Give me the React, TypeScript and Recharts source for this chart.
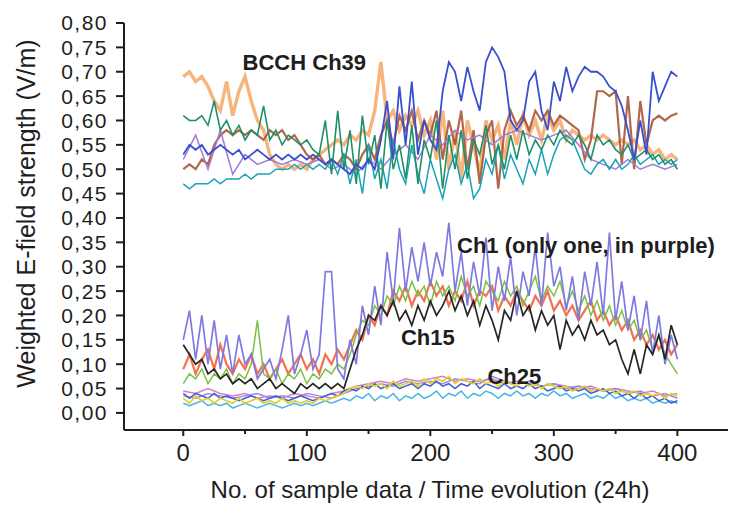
import { LineChart, Line, XAxis, YAxis, ReferenceDot } from 'recharts';

// sample index step used for each series
const STEP_FINE = 5;
const STEP_COARSE = 10;

const yTicks = [0, 0.05, 0.1, 0.15, 0.2, 0.25, 0.3, 0.35, 0.4, 0.45, 0.5, 0.55, 0.6, 0.65, 0.7, 0.75, 0.8];
const xTicks = [0, 50, 100, 150, 200, 250, 300, 350, 400];

// ---- BCCH Ch39 group (upper band) ----
const bcchBlue = [0.53, 0.55, 0.54, 0.55, 0.53, 0.54, 0.55, 0.54, 0.53, 0.54, 0.52, 0.53, 0.54, 0.53, 0.52, 0.53, 0.52, 0.53, 0.52, 0.53, 0.52, 0.53, 0.52, 0.51, 0.52, 0.51, 0.50, 0.49, 0.51, 0.50, 0.52, 0.50, 0.56, 0.64, 0.52, 0.67, 0.55, 0.68, 0.53, 0.60, 0.56, 0.54, 0.66, 0.72, 0.70, 0.64, 0.71, 0.66, 0.62, 0.72, 0.75, 0.73, 0.70, 0.60, 0.58, 0.60, 0.68, 0.70, 0.62, 0.58, 0.68, 0.64, 0.71, 0.66, 0.69, 0.71, 0.70, 0.70, 0.69, 0.67, 0.66, 0.63, 0.58, 0.52, 0.60, 0.53, 0.70, 0.64, 0.67, 0.70, 0.69];
const bcchOrange = [0.69, 0.70, 0.68, 0.69, 0.67, 0.64, 0.62, 0.68, 0.61, 0.66, 0.69, 0.64, 0.60, 0.58, 0.53, 0.51, 0.50, 0.51, 0.50, 0.51, 0.50, 0.52, 0.53, 0.54, 0.55, 0.56, 0.55, 0.57, 0.56, 0.58, 0.57, 0.62, 0.72, 0.60, 0.62, 0.58, 0.61, 0.59, 0.62, 0.57, 0.60, 0.52, 0.62, 0.50, 0.58, 0.48, 0.60, 0.55, 0.49, 0.60, 0.56, 0.59, 0.52, 0.60, 0.55, 0.61, 0.57, 0.60, 0.56, 0.61, 0.58, 0.60, 0.56, 0.58, 0.57, 0.56, 0.57, 0.56, 0.57, 0.56, 0.55, 0.56, 0.55, 0.56, 0.54, 0.55, 0.53, 0.54, 0.52, 0.53, 0.52];
const bcchBrown = [0.50, 0.51, 0.50, 0.52, 0.51, 0.55, 0.57, 0.58, 0.57, 0.58, 0.57, 0.58, 0.57, 0.56, 0.58, 0.57, 0.58, 0.56, 0.57, 0.55, 0.53, 0.52, 0.53, 0.51, 0.52, 0.51, 0.53, 0.52, 0.50, 0.53, 0.55, 0.52, 0.57, 0.60, 0.55, 0.61, 0.58, 0.62, 0.56, 0.60, 0.57, 0.62, 0.52, 0.60, 0.55, 0.62, 0.50, 0.58, 0.47, 0.57, 0.60, 0.46, 0.58, 0.62, 0.59, 0.61, 0.58, 0.62, 0.60, 0.62, 0.59, 0.61, 0.60, 0.59, 0.58, 0.52, 0.56, 0.66, 0.66, 0.65, 0.66, 0.51, 0.65, 0.50, 0.64, 0.55, 0.60, 0.61, 0.60, 0.61, 0.615];
const bcchGreen = [0.61, 0.60, 0.60, 0.61, 0.59, 0.64, 0.58, 0.60, 0.57, 0.59, 0.56, 0.58, 0.57, 0.63, 0.56, 0.58, 0.55, 0.57, 0.56, 0.55, 0.56, 0.54, 0.53, 0.60, 0.49, 0.62, 0.50, 0.58, 0.47, 0.61, 0.51, 0.57, 0.46, 0.60, 0.50, 0.55, 0.48, 0.59, 0.47, 0.56, 0.52, 0.60, 0.46, 0.57, 0.50, 0.58, 0.48, 0.56, 0.53, 0.59, 0.51, 0.55, 0.50, 0.57, 0.52, 0.58, 0.53, 0.56, 0.54, 0.57, 0.55, 0.58, 0.56, 0.55, 0.57, 0.55, 0.52, 0.57, 0.55, 0.56, 0.54, 0.53, 0.55, 0.52, 0.53, 0.54, 0.52, 0.53, 0.51, 0.52, 0.50];
const bcchTeal = [0.47, 0.46, 0.47, 0.47, 0.47, 0.48, 0.47, 0.48, 0.48, 0.48, 0.49, 0.48, 0.49, 0.49, 0.49, 0.50, 0.50, 0.50, 0.51, 0.50, 0.51, 0.50, 0.51, 0.50, 0.52, 0.49, 0.53, 0.47, 0.52, 0.45, 0.55, 0.48, 0.52, 0.46, 0.56, 0.50, 0.47, 0.55, 0.49, 0.45, 0.52, 0.48, 0.44, 0.50, 0.53, 0.47, 0.51, 0.44, 0.46, 0.52, 0.49, 0.55, 0.48, 0.53, 0.50, 0.47, 0.52, 0.49, 0.54, 0.49, 0.53, 0.56, 0.57, 0.56, 0.53, 0.50, 0.49, 0.51, 0.52, 0.50, 0.52, 0.50, 0.51, 0.53, 0.51, 0.52, 0.53, 0.51, 0.52, 0.51, 0.52];
const bcchViolet = [0.52, 0.57, 0.50, 0.58, 0.49, 0.53, 0.51, 0.52, 0.51, 0.52, 0.51, 0.52, 0.50, 0.51, 0.49, 0.52, 0.50, 0.53, 0.55, 0.52, 0.57, 0.55, 0.58, 0.56, 0.57, 0.55, 0.57, 0.58, 0.57, 0.56, 0.57, 0.58, 0.55, 0.52, 0.51, 0.50, 0.52, 0.50, 0.51, 0.50, 0.51];

// ---- Ch1 / Ch15 group (middle band) ----
const ch1Purple = [0.15, 0.21, 0.11, 0.20, 0.10, 0.19, 0.09, 0.16, 0.08, 0.16, 0.10, 0.12, 0.07, 0.09, 0.11, 0.07, 0.13, 0.20, 0.08, 0.12, 0.17, 0.09, 0.12, 0.29, 0.29, 0.09, 0.07, 0.15, 0.10, 0.22, 0.16, 0.26, 0.18, 0.33, 0.23, 0.38, 0.25, 0.34, 0.27, 0.35, 0.26, 0.33, 0.28, 0.39, 0.25, 0.33, 0.22, 0.31, 0.24, 0.36, 0.21, 0.30, 0.23, 0.32, 0.20, 0.29, 0.24, 0.34, 0.22, 0.37, 0.26, 0.30, 0.21, 0.28, 0.19, 0.29, 0.22, 0.31, 0.20, 0.37, 0.19, 0.27, 0.17, 0.24, 0.15, 0.23, 0.12, 0.20, 0.10, 0.16, 0.11];
const ch15Black = [0.14, 0.12, 0.10, 0.11, 0.08, 0.09, 0.07, 0.08, 0.06, 0.07, 0.06, 0.07, 0.05, 0.06, 0.07, 0.05, 0.06, 0.05, 0.04, 0.06, 0.05, 0.06, 0.05, 0.06, 0.05, 0.06, 0.05, 0.09, 0.13, 0.16, 0.20, 0.19, 0.22, 0.20, 0.23, 0.19, 0.21, 0.18, 0.22, 0.19, 0.23, 0.20, 0.22, 0.25, 0.21, 0.24, 0.20, 0.23, 0.18, 0.22, 0.19, 0.15, 0.21, 0.19, 0.25, 0.20, 0.22, 0.17, 0.21, 0.18, 0.20, 0.13, 0.19, 0.16, 0.18, 0.15, 0.19, 0.16, 0.17, 0.14, 0.15, 0.11, 0.08, 0.13, 0.08, 0.14, 0.12, 0.16, 0.11, 0.18, 0.14];
const midRed = [0.09, 0.12, 0.08, 0.11, 0.13, 0.09, 0.14, 0.10, 0.08, 0.11, 0.09, 0.12, 0.08, 0.10, 0.07, 0.09, 0.11, 0.08, 0.10, 0.12, 0.09, 0.11, 0.08, 0.12, 0.10, 0.13, 0.11, 0.14, 0.17, 0.15, 0.20, 0.18, 0.22, 0.20, 0.25, 0.23, 0.26, 0.22, 0.25, 0.23, 0.27, 0.24, 0.26, 0.22, 0.25, 0.23, 0.27, 0.22, 0.25, 0.24, 0.26, 0.21, 0.24, 0.22, 0.25, 0.23, 0.21, 0.24, 0.22, 0.25, 0.21, 0.23, 0.20, 0.22, 0.19, 0.21, 0.23, 0.19, 0.21, 0.18, 0.20, 0.17, 0.19, 0.15, 0.17, 0.14, 0.16, 0.13, 0.15, 0.12, 0.14];
const midGreen = [0.06, 0.08, 0.07, 0.09, 0.06, 0.08, 0.07, 0.09, 0.06, 0.08, 0.07, 0.10, 0.19, 0.08, 0.07, 0.09, 0.06, 0.08, 0.07, 0.09, 0.06, 0.08, 0.07, 0.09, 0.08, 0.10, 0.09, 0.12, 0.16, 0.19, 0.18, 0.22, 0.20, 0.24, 0.22, 0.26, 0.23, 0.27, 0.24, 0.26, 0.22, 0.27, 0.24, 0.26, 0.23, 0.28, 0.24, 0.26, 0.22, 0.27, 0.25, 0.23, 0.27, 0.24, 0.26, 0.22, 0.25, 0.28, 0.23, 0.26, 0.24, 0.27, 0.22, 0.25, 0.21, 0.24, 0.20, 0.23, 0.19, 0.22, 0.18, 0.21, 0.17, 0.19, 0.15, 0.17, 0.13, 0.16, 0.12, 0.10, 0.08];

// ---- Ch25 group (lower band) ----
const ch25Yellow = [0.03, 0.02, 0.035, 0.025, 0.03, 0.02, 0.03, 0.025, 0.02, 0.03, 0.02, 0.025, 0.03, 0.02, 0.025, 0.02, 0.03, 0.02, 0.025, 0.02, 0.025, 0.02, 0.03, 0.025, 0.03, 0.035, 0.04, 0.05, 0.055, 0.05, 0.06, 0.055, 0.06, 0.05, 0.065, 0.055, 0.06, 0.065, 0.055, 0.07, 0.06, 0.07, 0.065, 0.075, 0.06, 0.07, 0.065, 0.06, 0.07, 0.06, 0.065, 0.055, 0.065, 0.06, 0.055, 0.065, 0.055, 0.06, 0.05, 0.06, 0.055, 0.05, 0.055, 0.045, 0.05, 0.055, 0.045, 0.05, 0.045, 0.05, 0.04, 0.045, 0.04, 0.045, 0.035, 0.04, 0.035, 0.04, 0.03, 0.04, 0.035];
const ch25Blue = [0.04, 0.03, 0.04, 0.035, 0.03, 0.04, 0.03, 0.035, 0.03, 0.025, 0.03, 0.035, 0.03, 0.025, 0.03, 0.035, 0.03, 0.025, 0.03, 0.035, 0.03, 0.025, 0.03, 0.035, 0.04, 0.035, 0.045, 0.05, 0.045, 0.055, 0.05, 0.06, 0.05, 0.055, 0.06, 0.05, 0.055, 0.06, 0.05, 0.06, 0.055, 0.065, 0.055, 0.06, 0.05, 0.06, 0.055, 0.065, 0.05, 0.06, 0.055, 0.05, 0.06, 0.05, 0.055, 0.05, 0.06, 0.05, 0.055, 0.045, 0.05, 0.055, 0.045, 0.05, 0.045, 0.05, 0.04, 0.045, 0.05, 0.04, 0.045, 0.035, 0.04, 0.03, 0.04, 0.03, 0.035, 0.025, 0.03, 0.02, 0.025];
const ch25Cyan = [0.02, 0.015, 0.02, 0.025, 0.015, 0.02, 0.015, 0.02, 0.01, 0.015, 0.02, 0.015, 0.01, 0.015, 0.02, 0.015, 0.01, 0.015, 0.02, 0.015, 0.02, 0.015, 0.02, 0.025, 0.02, 0.025, 0.03, 0.025, 0.035, 0.03, 0.04, 0.025, 0.035, 0.03, 0.04, 0.025, 0.035, 0.03, 0.04, 0.03, 0.035, 0.045, 0.03, 0.04, 0.035, 0.045, 0.03, 0.04, 0.035, 0.045, 0.04, 0.03, 0.04, 0.035, 0.045, 0.035, 0.04, 0.03, 0.04, 0.035, 0.045, 0.035, 0.04, 0.03, 0.035, 0.04, 0.03, 0.035, 0.03, 0.04, 0.03, 0.035, 0.025, 0.03, 0.025, 0.03, 0.02, 0.025, 0.02, 0.025, 0.02];
const ch25Pink = [0.045, 0.04, 0.05, 0.04, 0.035, 0.04, 0.03, 0.035, 0.03, 0.04, 0.035, 0.03, 0.04, 0.045, 0.055, 0.06, 0.065, 0.06, 0.07, 0.065, 0.07, 0.075, 0.065, 0.07, 0.065, 0.07, 0.06, 0.065, 0.06, 0.055, 0.06, 0.055, 0.05, 0.055, 0.045, 0.05, 0.045, 0.04, 0.045, 0.035, 0.04];
const ch25Violet = [0.035, 0.03, 0.04, 0.035, 0.03, 0.035, 0.04, 0.03, 0.035, 0.03, 0.04, 0.035, 0.03, 0.04, 0.05, 0.055, 0.06, 0.055, 0.065, 0.06, 0.065, 0.06, 0.07, 0.065, 0.06, 0.075, 0.065, 0.06, 0.065, 0.055, 0.06, 0.05, 0.055, 0.05, 0.045, 0.05, 0.04, 0.045, 0.035, 0.04, 0.03];

const pts = (vals: number[], step: number) => vals.map((y, i) => ({ x: i * step, y }));

// drawing order: back to front
const series = [
  { key: 'bcchOrange', data: pts(bcchOrange, STEP_FINE), color: '#f4a35c', width: 3.4, opacity: 0.8 },
  { key: 'bcchBrown', data: pts(bcchBrown, STEP_FINE), color: '#a9573a', width: 2.2, opacity: 0.9 },
  { key: 'bcchViolet', data: pts(bcchViolet, STEP_COARSE), color: '#a27ad6', width: 1.5, opacity: 1 },
  { key: 'bcchTeal', data: pts(bcchTeal, STEP_FINE), color: '#1aa3b8', width: 1.5, opacity: 1 },
  { key: 'bcchGreen', data: pts(bcchGreen, STEP_FINE), color: '#1f9068', width: 1.6, opacity: 1 },
  { key: 'bcchBlue', data: pts(bcchBlue, STEP_FINE), color: '#3a4fcf', width: 1.8, opacity: 1 },
  { key: 'ch25Pink', data: pts(ch25Pink, STEP_COARSE), color: '#da7cc8', width: 1.5, opacity: 1 },
  { key: 'ch25Violet', data: pts(ch25Violet, STEP_COARSE), color: '#9a8ae6', width: 1.5, opacity: 1 },
  { key: 'ch25Cyan', data: pts(ch25Cyan, STEP_FINE), color: '#45b6e6', width: 1.5, opacity: 1 },
  { key: 'ch25Blue', data: pts(ch25Blue, STEP_FINE), color: '#3f5ed0', width: 1.5, opacity: 1 },
  { key: 'ch25Yellow', data: pts(ch25Yellow, STEP_FINE), color: '#e2cf2a', width: 1.7, opacity: 1 },
  { key: 'midRed', data: pts(midRed, STEP_FINE), color: '#f1623e', width: 2.2, opacity: 0.9 },
  { key: 'midGreen', data: pts(midGreen, STEP_FINE), color: '#79c044', width: 1.5, opacity: 1 },
  { key: 'ch1Purple', data: pts(ch1Purple, STEP_FINE), color: '#7f7ae0', width: 1.7, opacity: 1 },
  { key: 'ch15Black', data: pts(ch15Black, STEP_FINE), color: '#262626', width: 1.7, opacity: 1 },
];

const notes = [
  { text: 'BCCH Ch39', x: 98, y: 0.719 },
  { text: 'Ch1 (only one, in purple)', x: 326, y: 0.344 },
  { text: 'Ch15', x: 198, y: 0.154 },
  { text: 'Ch25', x: 268, y: 0.074 },
];

const FONT = '"Liberation Sans", Arial, sans-serif';
const INK = '#1e1e1e';

function XTick({ x, y, payload }: any) {
  const axisY = y - 6;
  const major = payload.value % 100 === 0;
  return (
    <g>
      <line x1={x} x2={x} y1={axisY} y2={axisY + (major ? 6 : 4)} stroke={INK} strokeWidth={2} />
      {major && (
        <text x={x} y={axisY + 31} textAnchor="middle" fontSize={24} fill={INK} fontFamily={FONT}>
          {payload.value}
        </text>
      )}
    </g>
  );
}

export default function App() {
  return (
    <div style={{ position: 'absolute', left: 0, top: 0, width: 730, height: 509, background: '#fff' }}>
      <LineChart width={730} height={509} margin={{ top: 23, right: 2, left: 0, bottom: 0 }}>
        <XAxis
          type="number"
          dataKey="x"
          domain={[-48, 441]}
          allowDataOverflow
          ticks={xTicks}
          interval={0}
          height={79}
          tickSize={6}
          tickMargin={0}
          tickLine={false}
          tick={<XTick />}
          axisLine={{ stroke: INK, strokeWidth: 2 }}
          label={{
            content: ({ viewBox }: any) => (
              <text
                x={viewBox.x + viewBox.width / 2 + 4}
                y={viewBox.y + 68}
                textAnchor="middle"
                fontSize={24}
                fill={INK}
                fontFamily={FONT}
              >
                No. of sample data / Time evolution (24h)
              </text>
            ),
          }}
        />
        <YAxis
          type="number"
          dataKey="y"
          domain={[-0.035, 0.8]}
          allowDataOverflow
          ticks={yTicks}
          interval={0}
          width={124}
          tickSize={8}
          tickMargin={8}
          tickFormatter={(v: number) => v.toFixed(2).replace('.', ',')}
          tick={{ fontSize: 21, fill: INK, fontFamily: FONT, letterSpacing: 1.5 }}
          tickLine={{ stroke: INK, strokeWidth: 2 }}
          axisLine={{ stroke: INK, strokeWidth: 2 }}
          label={{
            content: ({ viewBox }: any) => {
              const cx = viewBox.x + 26;
              const cy = viewBox.y + viewBox.height / 2 - 13;
              return (
                <text
                  x={cx}
                  y={cy}
                  transform={`rotate(-90 ${cx} ${cy})`}
                  textAnchor="middle"
                  dominantBaseline="central"
                  fontSize={25}
                  fill={INK}
                  fontFamily={FONT}
                >
                  Weighted E-field strength (V/m)
                </text>
              );
            },
          }}
        />
        {series.map((s) => (
          <Line
            key={s.key}
            data={s.data}
            dataKey="y"
            type="linear"
            stroke={s.color}
            strokeWidth={s.width}
            strokeOpacity={s.opacity}
            dot={false}
            activeDot={false}
            isAnimationActive={false}
          />
        ))}
        {notes.map((n) => (
          <ReferenceDot
            key={n.text}
            x={n.x}
            y={n.y}
            r={0}
            fill="none"
            stroke="none"
            label={{
              content: ({ viewBox }: any) => (
                <text
                  x={viewBox.x + viewBox.width / 2}
                  y={viewBox.y + viewBox.height / 2}
                  textAnchor="middle"
                  dominantBaseline="central"
                  fontSize={22}
                  fontWeight="bold"
                  fill={INK}
                  fontFamily={FONT}
                >
                  {n.text}
                </text>
              ),
            }}
          />
        ))}
      </LineChart>
    </div>
  );
}
